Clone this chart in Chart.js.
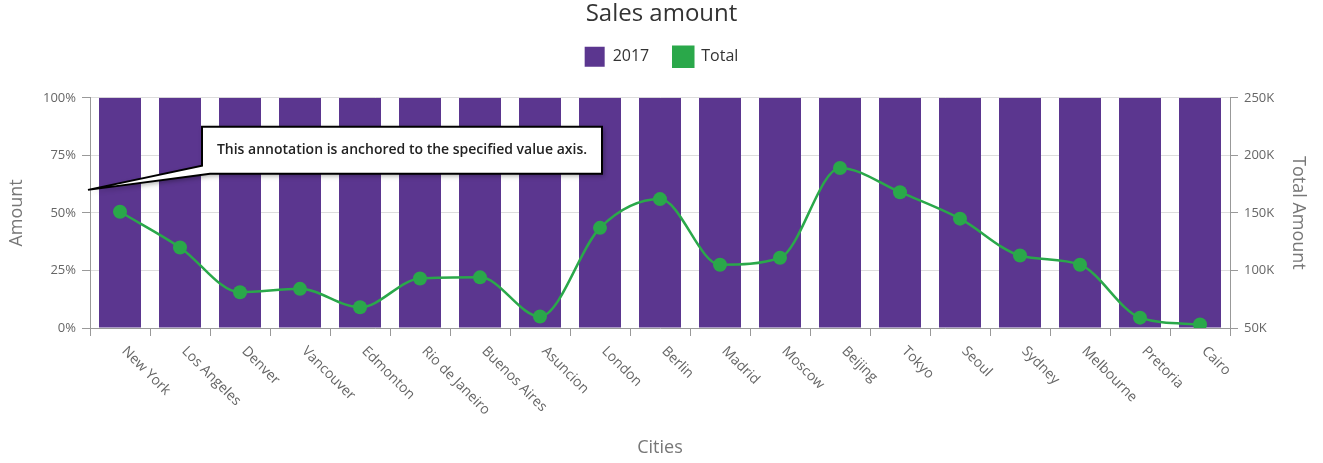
<!DOCTYPE html>
<html>
<head>
<meta charset="utf-8">
<style>
  html, body { margin: 0; padding: 0; background: #fff; }
  #wrap { width: 1323px; height: 463px; }
</style>
<script src="https://cdn.jsdelivr.net/npm/chart.js@4.4.0/dist/chart.umd.min.js"></script>
</head>
<body>
<div id="wrap"><canvas id="salesChart" width="1323" height="463"></canvas></div>
<script>
const cities = ['New York', 'Los Angeles', 'Denver', 'Vancouver', 'Edmonton', 'Rio de Janeiro',
  'Buenos Aires', 'Asuncion', 'London', 'Berlin', 'Madrid', 'Moscow', 'Beijing', 'Tokyo',
  'Seoul', 'Sydney', 'Melbourne', 'Pretoria', 'Cairo'];
const share2017 = [100, 100, 100, 100, 100, 100, 100, 100, 100, 100, 100, 100, 100, 100, 100, 100, 100, 100, 100];
const totals = [151000, 120000, 81000, 84000, 68000, 93000, 94000, 60000, 137000, 162000,
  105000, 111000, 189000, 168000, 145000, 113000, 105000, 59000, 53000];
const annotationValue = 60;
const annotationText = 'This annotation is anchored to the specified value axis.';

const FONT = "'Open Sans', 'Noto Sans', sans-serif";
const purple = '#5b368f';
const green = '#2aa84a';

// extra room under the legend
const legendGap = {
    id: 'legendGap',
    beforeInit(chart) {
        const fit = chart.legend.fit;
        chart.legend.fit = function () {
            fit.call(this);
            this.height += 21;
        };
    }
};

// x labels go down to the right, so they are drawn here instead of by the scale
const slantedLabels = {
    id: 'slantedLabels',
    afterDraw(chart) {
        const x = chart.scales.x;
        const ctx = chart.ctx;
        ctx.save();
        ctx.font = '14px ' + FONT;
        ctx.fillStyle = '#666';
        ctx.textAlign = 'left';
        ctx.textBaseline = 'middle';
        cities.forEach((name, i) => {
            ctx.save();
            ctx.translate(x.getPixelForTick(i) + 4, x.top + 21);
            ctx.rotate(Math.PI / 4);
            ctx.fillText(name, 0, 0);
            ctx.restore();
        });
        ctx.restore();
    }
};

const callout = {
    id: 'callout',
    afterDatasetsDraw(chart) {
        const area = chart.chartArea;
        const yl = chart.scales.y;
        const ctx = chart.ctx;
        const ax = yl.right - 2;
        const ay = yl.getPixelForValue(annotationValue);
        const l = area.left + 112, t = area.top + 29, r = area.left + 512, b = area.top + 76;
        ctx.save();
        ctx.beginPath();
        ctx.moveTo(l, t);
        ctx.lineTo(r, t);
        ctx.lineTo(r, b);
        ctx.lineTo(l + 8, b);
        ctx.lineTo(ax, ay);
        ctx.lineTo(l, b - 8);
        ctx.closePath();
        ctx.shadowColor = 'rgba(0,0,0,0.35)';
        ctx.shadowBlur = 5;
        ctx.shadowOffsetX = 2;
        ctx.shadowOffsetY = 2;
        ctx.fillStyle = '#fff';
        ctx.fill();
        ctx.shadowColor = 'transparent';
        ctx.lineWidth = 2;
        ctx.strokeStyle = '#000';
        ctx.lineJoin = 'miter';
        ctx.stroke();
        ctx.font = '600 14px ' + FONT;
        ctx.fillStyle = '#222';
        ctx.textAlign = 'center';
        ctx.textBaseline = 'middle';
        ctx.fillText(annotationText, (l + r) / 2, (t + b) / 2);
        ctx.restore();
    }
};

new Chart(document.getElementById('salesChart'), {
    type: 'bar',
    data: {
        labels: cities,
        datasets: [{
            type: 'bar',
            label: '2017',
            data: share2017,
            backgroundColor: purple,
            borderWidth: 0,
            barPercentage: 0.7,
            categoryPercentage: 1,
            yAxisID: 'y',
            order: 1
        }, {
            type: 'line',
            label: 'Total',
            data: totals,
            borderColor: green,
            backgroundColor: green,
            borderWidth: 2.5,
            pointRadius: 7,
            pointBackgroundColor: green,
            pointBorderWidth: 0,
            cubicInterpolationMode: 'monotone',
            yAxisID: 'y1',
            order: 0
        }]
    },
    options: {
        responsive: false,
        animation: false,
        layout: { padding: { top: 0, bottom: 0, left: 0, right: 0 } },
        plugins: {
            title: {
                display: true,
                text: 'Sales amount',
                color: '#333',
                font: { family: FONT, size: 24, weight: 'normal' },
                padding: { top: 0, bottom: -6 }
            },
            legend: {
                labels: {
                    boxWidth: 20,
                    boxHeight: 20,
                    color: '#333',
                    padding: 24,
                    font: { family: FONT, size: 16 },
                    sort: (a, b) => a.datasetIndex - b.datasetIndex
                }
            },
            tooltip: { enabled: false }
        },
        scales: {
            x: {
                offset: true,
                grid: { display: true, drawOnChartArea: false, offset: true, color: '#999', tickLength: 8 },
                border: { color: '#999' },
                ticks: { display: false },
                title: {
                    display: true,
                    text: 'Cities',
                    color: '#777',
                    font: { family: FONT, size: 18 },
                    padding: { top: 0, bottom: 4 }
                },
                afterFit: s => { s.height = 135; }
            },
            y: {
                position: 'left',
                min: 0,
                max: 100,
                ticks: {
                    stepSize: 25,
                    color: '#666',
                    font: { family: FONT, size: 13 },
                    padding: 6,
                    callback: v => v + '%'
                },
                grid: { color: '#ddd', tickColor: '#999', tickLength: 8 },
                border: { color: '#999' },
                title: {
                    display: true,
                    text: 'Amount',
                    color: '#777',
                    font: { family: FONT, size: 18 },
                    padding: { top: 6, bottom: 0 }
                },
                afterFit: s => { s.width = 90; }
            },
            y1: {
                position: 'right',
                min: 50000,
                max: 250000,
                ticks: {
                    stepSize: 50000,
                    color: '#666',
                    font: { family: FONT, size: 13 },
                    padding: 6,
                    callback: v => (v / 1000) + 'K'
                },
                grid: { drawOnChartArea: false, tickColor: '#999', tickLength: 8 },
                border: { color: '#999' },
                title: {
                    display: true,
                    text: 'Total Amount',
                    color: '#777',
                    font: { family: FONT, size: 18 },
                    padding: { top: 14, bottom: 0 }
                },
                afterFit: s => { s.width = 93; }
            }
        }
    },
    plugins: [legendGap, slantedLabels, callout]
});
</script>
</body>
</html>
